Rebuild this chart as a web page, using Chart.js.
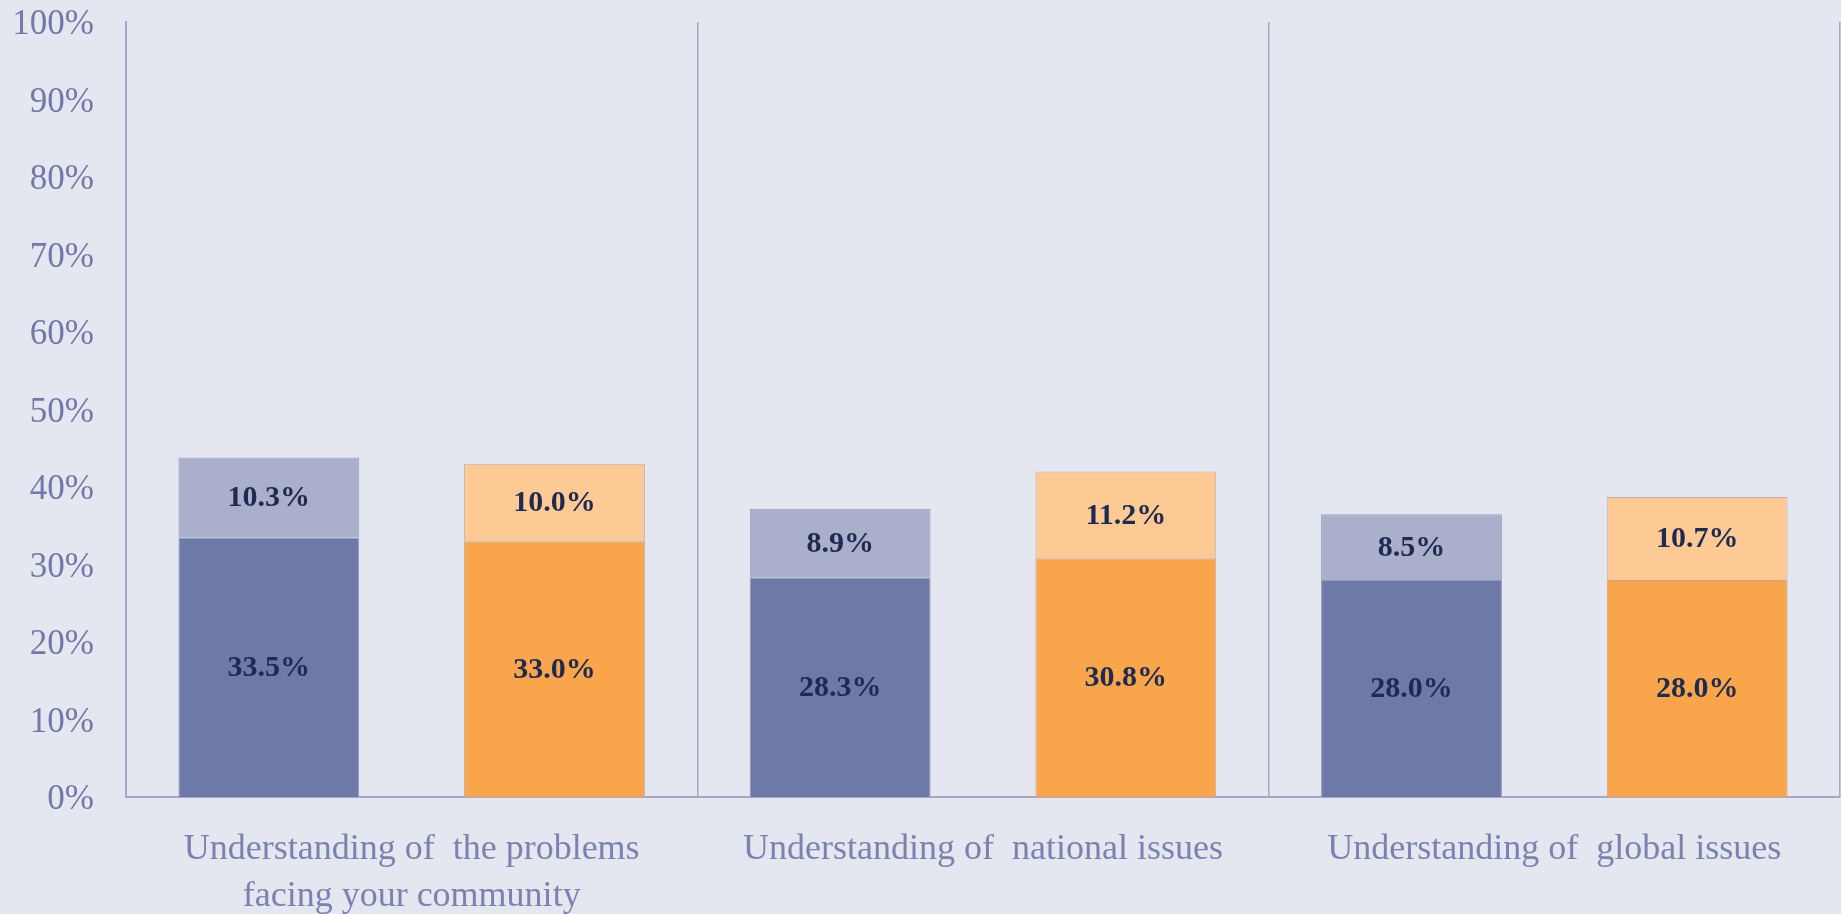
<!DOCTYPE html>
<html>
<head>
<meta charset="utf-8">
<script src="https://cdn.jsdelivr.net/npm/chart.js@4"></script>
<style>
  html, body { margin: 0; padding: 0; background: #e4e7f0; }
  #wrap { width: 1841px; height: 914px; }
</style>
</head>
<body>
<div id="wrap"><canvas id="skillsChart" width="1841" height="914"></canvas></div>
<script>
// categories and values (percent)
const categories = [
  ["Understanding of  the problems", "facing your community"],
  "Understanding of  national issues",
  "Understanding of  global issues"
];
const blueBase = [33.5, 28.3, 28.0];
const blueTop = [10.3, 8.9, 8.5];
const orangeBase = [33.0, 30.8, 28.0];
const orangeTop = [10.0, 11.2, 10.7];

// value labels centred inside each segment
const segmentLabels = {
  id: "segmentLabels",
  afterDatasetsDraw(chart) {
    const ctx = chart.ctx;
    ctx.save();
    ctx.font = "bold 30px 'Liberation Serif'";
    ctx.fillStyle = "#1f2a50";
    ctx.textAlign = "center";
    ctx.textBaseline = "middle";
    chart.data.datasets.forEach((ds, i) => {
      const meta = chart.getDatasetMeta(i);
      meta.data.forEach((bar, j) => {
        const v = ds.data[j];
        ctx.fillText(v.toFixed(1) + "%", bar.x, (bar.y + bar.base) / 2 + 1);
      });
    });
    ctx.restore();
  }
};

const ctx = document.getElementById("skillsChart").getContext("2d");
new Chart(ctx, {
  type: "bar",
  data: {
    labels: categories,
    datasets: [
      { data: blueBase, stack: "a", backgroundColor: "#6d79a7", borderColor: "#8f99c0", borderWidth: 1 },
      { data: blueTop, stack: "a", backgroundColor: "#aab0cc", borderColor: "#959ec4", borderWidth: 1 },
      { data: orangeBase, stack: "b", backgroundColor: "#f8a54c", borderColor: "#c8a592", borderWidth: 1 },
      { data: orangeTop, stack: "b", backgroundColor: "#fdc994", borderColor: "#c2aeaa", borderWidth: 1 }
    ]
  },
  options: {
    responsive: false,
    animation: false,
    categoryPercentage: 1.0,
    barPercentage: 0.633,
    layout: { padding: { left: 12, right: 1, top: 22, bottom: 0 } },
    plugins: {
      legend: { display: false },
      tooltip: { enabled: false }
    },
    scales: {
      x: {
        stacked: true,
        grid: { display: true, color: "#a2a8c6", lineWidth: 1.5, drawTicks: false, offset: true },
        border: { display: true, color: "#a2a8c6", width: 2 },
        ticks: {
          color: "#7a82b0",
          font: { family: "'Liberation Serif'", size: 36, lineHeight: 1.3 },
          padding: 29,
          maxRotation: 0,
          autoSkip: false
        },
        afterFit(scale) {
          scale.height = 117;
          scale.paddingLeft = 0;
          scale.paddingRight = 0;
        }
      },
      y: {
        stacked: true,
        min: 0,
        max: 100,
        grid: { display: false, drawTicks: false },
        border: { display: true, color: "#a2a8c6", width: 2 },
        ticks: {
          stepSize: 10,
          color: "#7279a8",
          font: { family: "'Liberation Serif'", size: 35 },
          padding: 32,
          labelOffset: 3,
          callback: v => v + "%"
        },
        afterFit(scale) {
          scale.width = 114;
          scale.paddingTop = 0;
          scale.paddingBottom = 0;
        }
      }
    }
  },
  plugins: [segmentLabels]
});
</script>
</body>
</html>
